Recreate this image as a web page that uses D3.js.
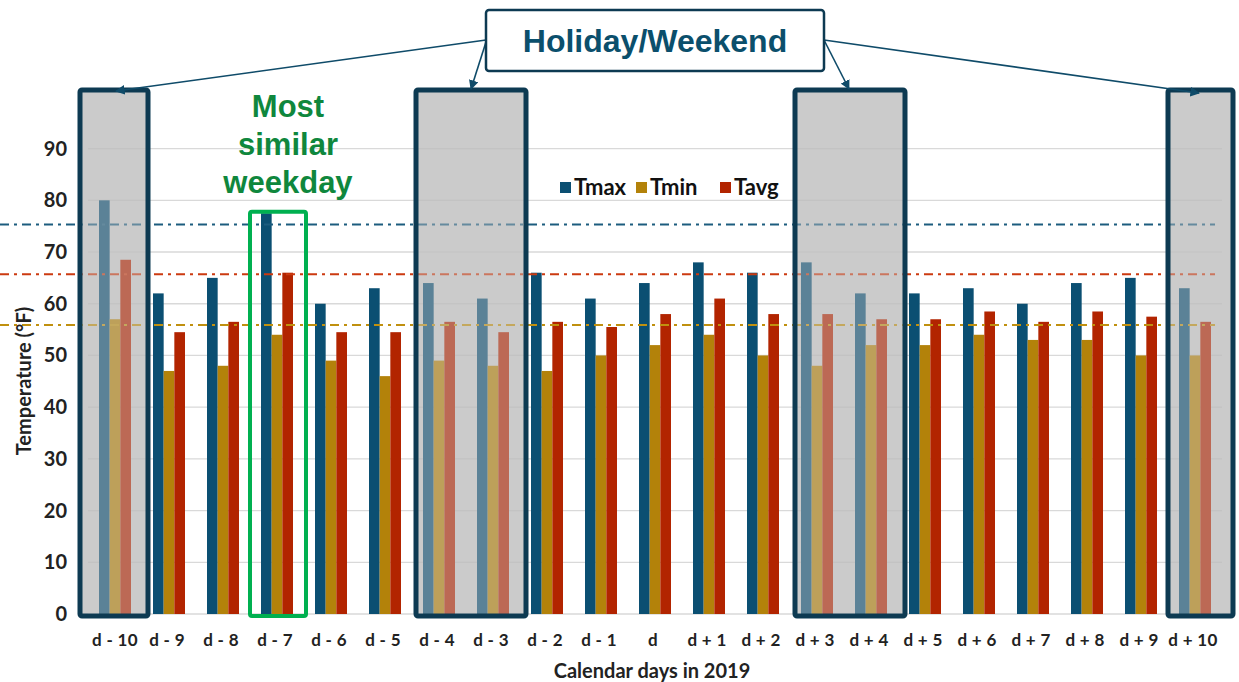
<!DOCTYPE html>
<html>
<head>
<meta charset="utf-8">
<script src="https://cdn.jsdelivr.net/npm/d3@7"></script>
<style>
  html, body { margin: 0; padding: 0; background: #fff; }
  svg { display: block; }
</style>
</head>
<body>
<svg id="chart" width="1239" height="682"></svg>
<script>
// ---------- DATA ----------
const days = ["d - 10","d - 9","d - 8","d - 7","d - 6","d - 5","d - 4","d - 3","d - 2","d - 1","d",
              "d + 1","d + 2","d + 3","d + 4","d + 5","d + 6","d + 7","d + 8","d + 9","d + 10"];
const seriesNames = ["Tmax","Tmin","Tavg"];
const tmax = [80, 62, 65, 77.5, 60, 63, 64, 61, 66, 61, 64, 68, 66, 68, 62, 62, 63, 60, 64, 65, 63];
const tmin = [57, 47, 48, 54, 49, 46, 49, 48, 47, 50, 52, 54, 50, 48, 52, 52, 54, 53, 53, 50, 50];
const tavg = [68.5, 54.5, 56.5, 66, 54.5, 54.5, 56.5, 54.5, 56.5, 55.5, 58, 61, 58, 58, 57, 57, 58.5, 56.5, 58.5, 57.5, 56.5];
const refLines = [75.3, 55.9, 65.7]; // Tmax, Tmin, Tavg reference (dash-dot)
const yTicks = [0, 10, 20, 30, 40, 50, 60, 70, 80, 90];
const holidayGroups = [["d - 10","d - 10"],["d - 4","d - 3"],["d + 3","d + 4"],["d + 10","d + 10"]];
const similarDay = "d - 7";

// ---------- STYLE ----------
const colors = {Tmax: "#0b4f72", Tmin: "#b3820a", Tavg: "#b22400"};
const navy = "#0d3a52";
const fontB = "Lato, 'Open Sans', sans-serif";
const fontA = "'Liberation Sans', Arial, sans-serif";

const svg = d3.select("#chart");
const x = d3.scaleBand().domain(days).range([88, 1222]).padding(0);
const xs = d3.scaleBand().domain(seriesNames).range([11, 43]).padding(0);
const y = d3.scaleLinear().domain([0, 90]).range([614, 148.6]);

const values = {Tmax: tmax, Tmin: tmin, Tavg: tavg};
const flat = [];
days.forEach((d, i) => seriesNames.forEach(s => flat.push({day: d, s, v: values[s][i]})));

const defs = svg.append("defs");

// gridlines
svg.append("g").selectAll("line").data(yTicks.filter(t => t > 0)).join("line")
  .attr("x1", 88).attr("x2", 1222)
  .attr("y1", d => y(d)).attr("y2", d => y(d))
  .attr("stroke", "#d9d9d9").attr("stroke-width", 1.3);

// holiday boxes geometry (hand-drawn offsets around the band centres)
const padL = [35, 23, 22, 27], padR = [33, 33, 34, 38];
const boxes = holidayGroups.map((g, i) => ({
  x0: x(g[0]) + x.bandwidth()/2 - padL[i],
  x1: x(g[1]) + x.bandwidth()/2 + padR[i],
  y0: 90, y1: 616
}));

// gray backgrounds
svg.append("g").selectAll("rect").data(boxes).join("rect")
  .attr("x", d => d.x0).attr("y", d => d.y0)
  .attr("width", d => d.x1 - d.x0).attr("height", d => d.y1 - d.y0)
  .attr("fill", "#cbcbcb");
const cp = defs.append("clipPath").attr("id", "boxclip");
cp.selectAll("rect").data(boxes).join("rect")
  .attr("x", d => d.x0).attr("y", d => d.y0)
  .attr("width", d => d.x1 - d.x0).attr("height", d => d.y1 - d.y0);
svg.append("g").attr("clip-path", "url(#boxclip)")
  .selectAll("line").data(yTicks.filter(t => t > 0)).join("line")
  .attr("x1", 88).attr("x2", 1222)
  .attr("y1", d => y(d)).attr("y2", d => y(d))
  .attr("stroke", "#bdbdbd").attr("stroke-width", 1.2);

// baseline
svg.append("line").attr("x1", 88).attr("x2", 1222).attr("y1", y(0)).attr("y2", y(0))
  .attr("stroke", "#d9d9d9").attr("stroke-width", 1.3);

// bars
svg.append("g").selectAll("rect").data(flat).join("rect")
  .attr("x", d => x(d.day) + xs(d.s))
  .attr("width", xs.bandwidth())
  .attr("y", d => y(d.v))
  .attr("height", d => y(0) - y(d.v))
  .attr("fill", d => colors[d.s]);

// reference dash-dot lines
svg.append("g").selectAll("line").data(seriesNames).join("line")
  .attr("x1", 0).attr("x2", 1215)
  .attr("y1", (s, i) => y(refLines[i])).attr("y2", (s, i) => y(refLines[i]))
  .attr("stroke", s => s === "Tmax" ? "#1c5c7e" : s === "Tmin" ? "#c0900f" : "#cc3a10")
  .attr("stroke-width", 2)
  .attr("stroke-dasharray", "9,5,3,5");

// translucent overlay
svg.append("g").selectAll("rect").data(boxes).join("rect")
  .attr("x", d => d.x0).attr("y", d => d.y0)
  .attr("width", d => d.x1 - d.x0).attr("height", d => d.y1 - d.y0)
  .attr("fill", "#cbcbcb").attr("opacity", 0.42);

// box borders
svg.append("g").selectAll("rect").data(boxes).join("rect")
  .attr("x", d => d.x0).attr("y", d => d.y0)
  .attr("width", d => d.x1 - d.x0).attr("height", d => d.y1 - d.y0)
  .attr("rx", 2)
  .attr("fill", "none").attr("stroke", navy).attr("stroke-width", 5);

// similar weekday green box
svg.append("rect")
  .attr("x", x(similarDay) + x.bandwidth()/2 - 27)
  .attr("y", y(77.8))
  .attr("width", 56)
  .attr("height", y(0) + 2 - y(77.8))
  .attr("rx", 2)
  .attr("fill", "none").attr("stroke", "#00b050").attr("stroke-width", 4);

// y axis tick labels
svg.append("g").selectAll("text").data(yTicks).join("text")
  .attr("x", 67).attr("y", d => y(d)).attr("dy", "0.35em")
  .attr("text-anchor", "end")
  .attr("font-family", fontB).attr("font-weight", "bold").attr("font-size", 20)
  .attr("fill", "#222").text(d => d);

// x axis tick labels
svg.append("g").selectAll("text").data(days).join("text")
  .attr("x", d => x(d) + x.bandwidth()/2 + (d === "d - 10" ? 0 : -2)).attr("y", 646)
  .attr("text-anchor", "middle")
  .attr("font-family", fontB).attr("font-weight", "bold").attr("font-size", 17)
  .attr("letter-spacing", 0.3)
  .attr("fill", "#222").text(d => d);

// axis titles
svg.append("text")
  .attr("transform", "translate(31,381) rotate(-90)")
  .attr("text-anchor", "middle")
  .attr("font-family", fontB).attr("font-weight", "bold").attr("font-size", 20)
  .attr("fill", "#222").text("Temperature (°F)");
svg.append("text")
  .attr("x", 652).attr("y", 678).attr("text-anchor", "middle")
  .attr("font-family", fontB).attr("font-weight", "bold").attr("font-size", 20)
  .attr("fill", "#222").text("Calendar days in 2019");

// legend
const legX = [560, 636, 720];
const leg = svg.append("g").selectAll("g").data(seriesNames).join("g")
  .attr("transform", (s, i) => `translate(${legX[i]},182)`);
leg.append("rect").attr("width", 11).attr("height", 11).attr("fill", s => colors[s]);
leg.append("text").attr("x", 14).attr("y", 5.5).attr("dy", "0.36em")
  .attr("font-family", fontB).attr("font-weight", "bold").attr("font-size", 22)
  .attr("fill", "#111").text(s => s);

// "Most similar weekday"
svg.append("g").selectAll("text").data(["Most", "similar", "weekday"]).join("text")
  .attr("x", 288).attr("y", (d, i) => 117 + i * 38)
  .attr("text-anchor", "middle")
  .attr("font-family", fontA).attr("font-weight", "bold").attr("font-size", 31)
  .attr("fill", "#0f873d").text(d => d);

// arrows
defs.append("marker").attr("id", "arr").attr("viewBox", "0 0 10 10")
  .attr("refX", 9).attr("refY", 5).attr("markerWidth", 6).attr("markerHeight", 6)
  .attr("orient", "auto-start-reverse")
  .append("path").attr("d", "M0,0 L10,5 L0,10 z").attr("fill", "#0f4b69");
const arrows = [
  {x1: 486, y1: 40, x2: 116, y2: 91},
  {x1: 486, y1: 42, x2: 471, y2: 89},
  {x1: 824, y1: 40, x2: 849, y2: 89},
  {x1: 824, y1: 40, x2: 1199, y2: 93}
];
svg.append("g").selectAll("line").data(arrows).join("line")
  .attr("x1", d => d.x1).attr("y1", d => d.y1).attr("x2", d => d.x2).attr("y2", d => d.y2)
  .attr("stroke", "#0f4b69").attr("stroke-width", 1.6)
  .attr("marker-end", "url(#arr)");

// Holiday/Weekend label box
svg.append("rect").attr("x", 486).attr("y", 10).attr("width", 338).attr("height", 61)
  .attr("rx", 3).attr("fill", "#fff").attr("stroke", navy).attr("stroke-width", 2.5);
svg.append("text").attr("x", 655).attr("y", 41).attr("dy", "0.35em")
  .attr("text-anchor", "middle")
  .attr("font-family", fontA).attr("font-weight", "bold").attr("font-size", 32)
  .attr("fill", "#0b4f6c").text("Holiday/Weekend");
</script>
</body>
</html>
